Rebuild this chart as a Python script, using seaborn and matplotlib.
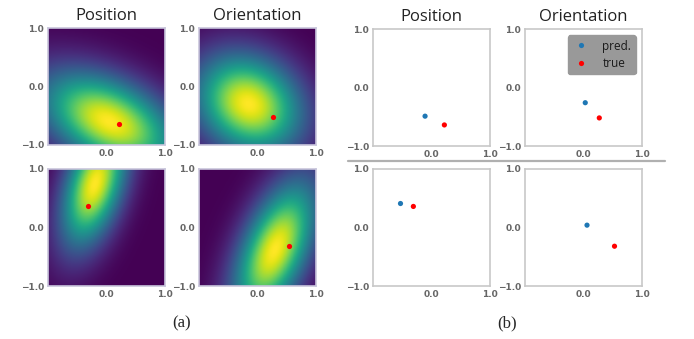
import numpy as np
import matplotlib
matplotlib.use("Agg")
import matplotlib.pyplot as plt
import seaborn as sns
import pandas as pd

sns.set_style("white")
plt.rcParams['font.family'] = ['Open Sans', 'DejaVu Sans']

# ---- data ----
panel_titles = ["Position", "Orientation"]
# (a) predicted Gaussian distributions: mean, major/minor std, major-axis angle (deg)
dist_mean_x = [0.05, -0.15, -0.2, 0.3]
dist_mean_y = [-0.6, -0.3, 0.75, -0.38]
dist_major = [0.85, 0.66, 0.75, 0.85]
dist_minor = [0.48, 0.54, 0.33, 0.38]
dist_angle = [-27, -35, 73, 67]
# true points
true_x = [0.22, 0.27, -0.31, 0.53]
true_y = [-0.64, -0.52, 0.36, -0.32]
# (b) predicted points
pred_x = [-0.11, 0.03, -0.53, 0.06]
pred_y = [-0.49, -0.26, 0.41, 0.04]
xticks = [0.0, 1.0]
yticks = [-1.0, 0.0, 1.0]
sub_labels = ["(a)", "(b)"]

W, H = 694, 339
fig = plt.figure(figsize=(W / 100, H / 100), dpi=100)

def fax(x0, y0, w=117, h=117):
    return fig.add_axes([x0 / W, 1 - (y0 + h) / H, w / W, h / H])

a_pos = [(48, 28), (199, 28), (48, 169), (199, 169)]
b_pos = [(373, 29), (525, 29), (373, 169), (525, 169)]

def style(ax, spine_color):
    ax.set_xlim(-1, 1)
    ax.set_ylim(-1, 1)
    ax.set_xticks(xticks)
    ax.set_yticks(yticks)
    ax.set_xticklabels([f"{v:.1f}".replace("-", "\u2212") for v in xticks])
    ax.set_yticklabels([f"{v:.1f}".replace("-", "\u2212") for v in yticks])
    ax.tick_params(length=0, pad=3, labelsize=6.5, labelcolor="#666666")
    for t in ax.get_xticklabels() + ax.get_yticklabels():
        t.set_fontweight("bold")
        t.set_family(["DejaVu Sans"])
    for s in ax.spines.values():
        s.set_visible(True)
        s.set_color(spine_color)
        s.set_linewidth(1.2)
    ax.set_xlabel("")
    ax.set_ylabel("")

g = np.linspace(-1, 1, 200)
GX, GY = np.meshgrid(g, g)

for i in range(4):
    ax = fax(*a_pos[i])
    th = np.deg2rad(dist_angle[i])
    px = GX - dist_mean_x[i]
    py = GY - dist_mean_y[i]
    u = (px * np.cos(th) + py * np.sin(th)) / dist_major[i]
    v = (-px * np.sin(th) + py * np.cos(th)) / dist_minor[i]
    z = np.exp(-(u ** 2 + v ** 2) / 2)
    ax.imshow(z, extent=[-1, 1, -1, 1], origin="lower", cmap="viridis",
              aspect="auto", interpolation="bilinear")
    df = pd.DataFrame({"x": [true_x[i]], "y": [true_y[i]]})
    sns.scatterplot(data=df, x="x", y="y", ax=ax, color="red", s=14,
                    linewidth=0, zorder=5)
    style(ax, "#c9c6dc")
    if i < 2:
        ax.set_title(panel_titles[i], fontsize=12, pad=6, color="#222222")

for i in range(4):
    ax = fax(*b_pos[i])
    df = pd.DataFrame({"x": [pred_x[i], true_x[i]],
                       "y": [pred_y[i], true_y[i]],
                       "kind": ["pred.", "true"]})
    sns.scatterplot(data=df, x="x", y="y", hue="kind",
                    palette={"pred.": "#1f77b4", "true": "red"},
                    ax=ax, s=14, linewidth=0, legend=(i == 1))
    style(ax, "#c8c8c8")
    if i < 2:
        ax.set_title(panel_titles[i], fontsize=12, pad=6, color="#222222")
    if i == 1:
        leg = ax.legend(loc="upper right", fontsize=8.5, frameon=True,
                        facecolor="#999999", edgecolor="#999999",
                        framealpha=1, borderaxespad=0.55, handletextpad=1.0,
                        markerscale=1.0, borderpad=0.35, labelspacing=0.35,
                        handlelength=1.6)
        for t in leg.get_texts():
            t.set_color("#1a1a1a")

# separator line in (b)
fig.add_artist(plt.Line2D([348 / W, 665 / W], [1 - 161 / H, 1 - 161 / H],
                          color="#b0b0b0", linewidth=1.6))

fig.text(182 / W, 1 - 323 / H, sub_labels[0], ha="center", va="center",
         fontsize=12, family=["Liberation Serif"])
fig.text(507 / W, 1 - 323 / H, sub_labels[1], ha="center", va="center",
         fontsize=12, family=["Liberation Serif"])

fig.savefig("out.png", dpi=100)
